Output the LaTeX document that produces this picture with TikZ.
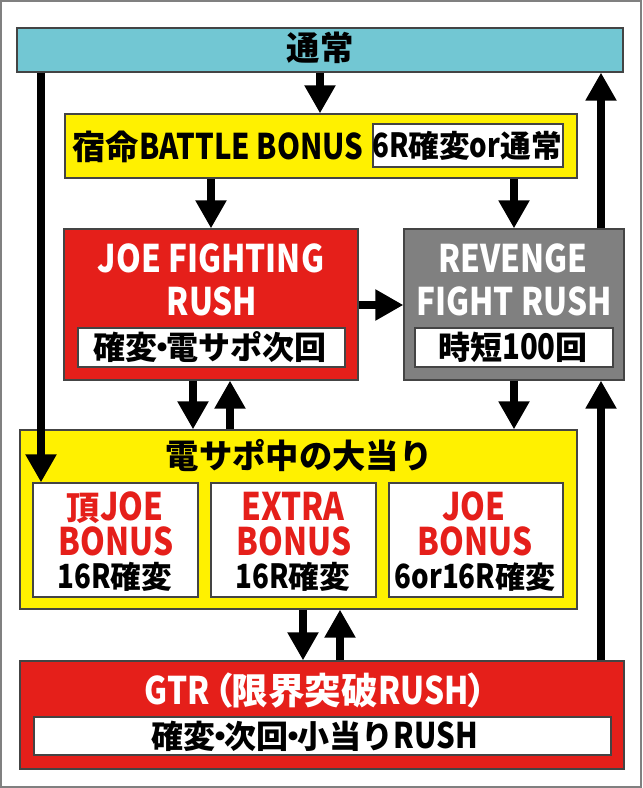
\documentclass[tikz,border=0pt]{standalone}
\usepackage{fontspec}
\setmainfont{Noto Sans CJK JP}[BoldFont={Noto Sans CJK JP Black}]
\newfontfamily\lat{Noto Sans CJK JP}[BoldFont={Noto Sans CJK JP Black},FakeStretch=0.83]
\usetikzlibrary{arrows.meta,fit}
\definecolor{cyanbox}{HTML}{72C7D3}
\definecolor{yel}{HTML}{FFF100}
\definecolor{redbox}{HTML}{E51F1A}
\definecolor{graybox}{HTML}{808080}
\definecolor{edge}{HTML}{444444}
\newcommand\LL[1]{{\lat\fontsize{28.5}{30}\selectfont #1}}
\newcommand\LM[1]{{\lat\fontsize{26.5}{30}\selectfont #1}}
\newcommand\LS[1]{{\lat\fontsize{25}{30}\selectfont #1}}
\newcommand\dt{\hspace{-0.36em}・\hspace{-0.36em}}
\begin{document}
\begin{tikzpicture}[x=0.75pt,y=-0.75pt,
  box/.style={draw=edge, line width=0.9pt, inner sep=0pt, fit={#1}},
  arr/.style={line width=6pt, -{Triangle[width=22pt,length=21pt]}},
  txt/.style={inner sep=0pt, font=\bfseries\fontsize{25}{30}\selectfont},
  wbtxt/.style={inner sep=0pt, font=\bfseries\fontsize{24}{30}\selectfont},
  stxt/.style={inner sep=0pt, font=\bfseries\fontsize{23}{26}\selectfont,
    text height=19pt, text depth=1.5pt},
  wtxt/.style={txt, text=white},
  rtxt/.style={txt, text=redbox, text height=21pt, text depth=0.5pt},
]
\useasboundingbox (0,0) rectangle (642,788);
\draw[gray, line width=1.5pt] (1,1) rectangle (641,787);

% boxes
\node[box={(17,28) (623,72)}, fill=cyanbox] (normal) {};
\node[box={(65,114) (577,178)}, fill=yel] (battle) {};
\node[box={(373,124) (563,167)}, fill=white] (battleW) {};
\node[box={(64,229) (358,380)}, fill=redbox] (joe) {};
\node[box={(78,328) (345,367)}, fill=white] (joeW) {};
\node[box={(404,229) (624,380)}, fill=graybox] (rev) {};
\node[box={(415,328) (613,367)}, fill=white] (revW) {};
\node[box={(20,430) (577,609)}, fill=yel] (densapo) {};
\node[box={(33,483) (198,597)}, fill=white] (b1) {};
\node[box={(211,483) (376,597)}, fill=white] (b2) {};
\node[box={(389,483) (563,597)}, fill=white] (b3) {};
\node[box={(20,661) (624,769)}, fill=redbox] (gtr) {};
\node[box={(34,717) (611,755)}, fill=white] (gtrW) {};

% texts
\node[txt] (tNormal) at (320,48) {通常};
\node[txt] (tBattle) at (218,147) {宿命\LM{BATTLE BONUS}};
\node[txt, font=\bfseries\fontsize{23}{30}\selectfont] (tBattleW) at (467,146) {\LS{6R}確変\LS{or}通常};
\node[wtxt] (tJoe1) at (211,258) {\LL{JOE FIGHTING}};
\node[wtxt] (tJoe2) at (212,301) {\LL{RUSH}};
\node[wbtxt] (tJoeW) at (210,347) {確変\dt 電サポ次回};
\node[wtxt] (tRev1) at (513,258) {\LL{REVENGE}};
\node[wtxt] (tRev2) at (514,301) {\LL{FIGHT RUSH}};
\node[wbtxt] (tRevW) at (513,347) {時短\LM{100}回};
\node[txt] (tDen) at (299,455) {電サポ中の大当り};
\node[rtxt] (t11) at (115,507) {頂\LL{JOE}};
\node[rtxt] (t12) at (116,542) {\LL{BONUS}};
\node[stxt] (t13) at (115,577) {\LS{16R}確変};
\node[rtxt] (t21) at (293,507) {\LL{EXTRA}};
\node[rtxt] (t22) at (294,542) {\LL{BONUS}};
\node[stxt] (t23) at (293,577) {\LS{16R}確変};
\node[rtxt] (t31) at (474,507) {\LL{JOE}};
\node[rtxt] (t32) at (475,542) {\LL{BONUS}};
\node[stxt, font=\bfseries\fontsize{22.5}{26}\selectfont] (t33) at (475,577) {\LS{6or16R}確変};
\node[wtxt, font=\bfseries\fontsize{27.5}{30}\selectfont] (tGtr) at (324,691) {\LL{GTR}\hspace{-0.34em}（\hspace{-0.06em}限界突破\LL{RUSH}\hspace{-0.06em}）\hspace{-0.34em}};
\node[wbtxt] (tGtrW) at (315,736) {確変\dt 次回\dt 小当り\LM{RUSH}};

% arrow columns
\coordinate (xL) at (41,0);
\coordinate (xM) at (320,0);
\coordinate (xA) at (211,0);
\coordinate (xB) at (514,0);
\coordinate (xR) at (601,0);
\coordinate (xC) at (193,0);
\coordinate (xD) at (230,0);
\coordinate (xE) at (303,0);
\coordinate (xF) at (340,0);
\coordinate (yM) at (0,305);

\draw[arr] (normal.south -| xM) -- (battle.north -| xM);
\draw[arr] (normal.south -| xL) -- (b1.north -| xL);
\draw[arr] (battle.south -| xA) -- (joe.north -| xA);
\draw[arr] (battle.south -| xB) -- (rev.north -| xB);
\draw[arr] (joe.east |- yM) -- (rev.west |- yM);
\draw[arr] (joe.south -| xC) -- (densapo.north -| xC);
\draw[arr] (densapo.north -| xD) -- (joe.south -| xD);
\draw[arr] (rev.south -| xB) -- (densapo.north -| xB);
\draw[arr] (gtr.north -| xR) -- (rev.south -| xR);
\draw[arr] (rev.north -| xR) -- (normal.south -| xR);
\draw[arr] (densapo.south -| xE) -- (gtr.north -| xE);
\draw[arr] (gtr.north -| xF) -- (densapo.south -| xF);
\end{tikzpicture}
\end{document}
